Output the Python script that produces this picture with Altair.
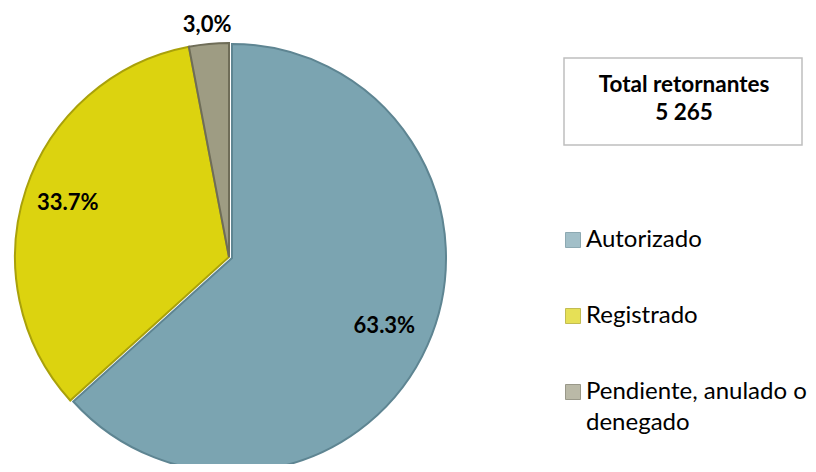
import math
import altair as alt
import pandas as pd

# ---- data ----
categories = ["Autorizado", "Registrado", "Pendiente, anulado o denegado"]
shares = [63.3, 33.7, 3.0]
slice_labels = ["63.3%", "33.7%", "3,0%"]
colors = ["#7BA4B1", "#DCD30F", "#9E9C83"]
edge_colors = ["#5E8592", "#A9A10A", "#6F6D58"]
box_lines = ["Total retornantes", "5 265"]

df = pd.DataFrame({"cat": categories, "share": shares, "label": slice_labels})
df["end"] = df["share"].cumsum()
df["start"] = df["end"] - df["share"]
df["mid"] = (df["start"] + df["end"]) / 2

W, H = 800, 456
CX, CY, R = 221, 249, 214

theta_scale = alt.Scale(domain=[0, 100], range=[0, 2 * math.pi])
color_scale = alt.Scale(domain=categories, range=colors)
fill_enc = alt.Fill("cat:N", scale=color_scale, legend=None)
stroke_enc = alt.Stroke(
    "cat:N", scale=alt.Scale(domain=categories, range=edge_colors), legend=None
)

base = alt.Chart(df).encode(
    theta=alt.Theta("start:Q", scale=theta_scale),
    theta2="end:Q",
    x=alt.value(CX),
    y=alt.value(CY),
)

arcs_rest = base.transform_filter(alt.datum.cat != categories[0]).mark_arc(
    radius=R, strokeWidth=2
).encode(fill=fill_enc, stroke=stroke_enc)

arc_main = base.transform_filter(alt.datum.cat == categories[0]).mark_arc(
    radius=R, strokeWidth=2, xOffset=3, yOffset=1
).encode(fill=fill_enc, stroke=stroke_enc)

txt_base = alt.Chart(df).encode(
    theta=alt.Theta("mid:Q", scale=theta_scale),
    x=alt.value(CX),
    y=alt.value(CY),
    text="label:N",
)
inside = txt_base.transform_filter(alt.datum.share > 10).mark_text(
    radius=170, font="Lato", fontWeight="bold", fontSize=22, color="#000000"
)
outside = txt_base.transform_filter(alt.datum.share <= 10).mark_text(
    radius=233, font="Lato", fontWeight="bold", fontSize=22, color="#000000"
)

# ---- legend built from the same categories ----
leg_y = alt.Y(
    "cat:N",
    scale=alt.Scale(type="point", domain=categories, range=[232, 384], padding=0),
    axis=None,
)
leg_base = alt.Chart(df).encode(y=leg_y)
leg_sym = leg_base.mark_square(size=225, strokeWidth=1).encode(
    x=alt.value(565), fill=fill_enc, stroke=stroke_enc
)
leg_txt = leg_base.transform_calculate(
    lab="datum.cat == 'Pendiente, anulado o denegado' ? ['Pendiente, anulado o', 'denegado'] : datum.cat"
).mark_text(
    font="Lato", fontSize=24, lineHeight=31, align="left", baseline="middle",
    color="#000000"
).encode(x=alt.value(578), text="lab:N")

box = alt.Chart(pd.DataFrame({"k": [0]})).mark_rect(
    fill="white", stroke="#BFBFBF", strokeWidth=1.5
).encode(x=alt.value(556), x2=alt.value(794), y=alt.value(50), y2=alt.value(137))

box_text = alt.Chart(pd.DataFrame({"k": [0]})).mark_text(
    text=box_lines, font="Lato", fontWeight="bold", fontSize=22.5, lineHeight=28,
    color="#000000", align="center", baseline="middle"
).encode(x=alt.value(676), y=alt.value(77))

chart = alt.layer(
    arcs_rest, arc_main, inside, outside, leg_sym, leg_txt, box, box_text
).properties(
    width=W, height=H, padding=0, autosize=alt.AutoSizeParams(type="none")
).configure_view(stroke=None)

chart.save("out.html", embed_options={"renderer": "svg", "actions": False})
